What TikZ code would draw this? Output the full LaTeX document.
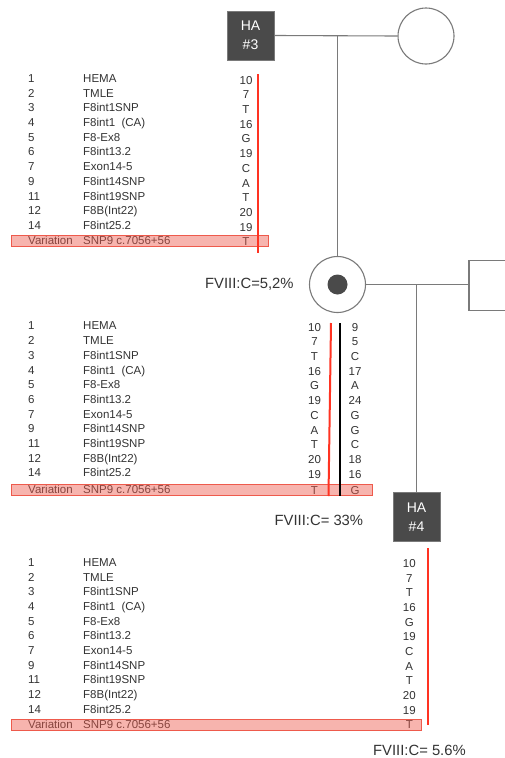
\documentclass[tikz,border=0pt]{standalone}
\usepackage{fontspec}
\setmainfont{Liberation Sans}
\definecolor{pedgray}{HTML}{7A7A7A}
\definecolor{hadark}{HTML}{4A4A4A}
\definecolor{txtgray}{HTML}{333333}
\definecolor{redline}{HTML}{FF3322}
\definecolor{hlred}{HTML}{EE5A4C}
\begin{document}
\begin{tikzpicture}[x=1pt,y=-1pt,
  ped/.style={draw=pedgray,line width=1.1pt},
  affsq/.style={draw=pedgray,line width=0.8pt,fill=hadark,minimum width=47pt,minimum height=49pt,inner sep=0pt,text=white,align=center,font=\fontsize{14}{19}\selectfont},
  unsq/.style={draw=pedgray,line width=1.1pt,fill=white,minimum width=47pt,minimum height=50pt,inner sep=0pt},
  femcirc/.style={circle,draw=pedgray,line width=1.1pt,fill=white,minimum size=56pt,inner sep=0pt},
  carrierdot/.style={circle,fill=hadark,minimum size=20pt,inner sep=0pt},
  fvlabel/.style={anchor=base west,inner sep=0pt,text=txtgray,font=\fontsize{14.8}{16}\selectfont},
  tabtxt/.style={anchor=base west,inner sep=0pt,text=txtgray,font=\fontsize{11.5}{13}\selectfont},
  tabval/.style={anchor=base,inner sep=0pt,text=txtgray,font=\fontsize{11.5}{13}\selectfont},
  redbar/.style={draw=redline,line width=2pt},
  blackbar/.style={draw=black,line width=2pt},
  hlbox/.style={draw=hlred,line width=1pt,fill=hlred,fill opacity=0.45}
]
\useasboundingbox (0,0) rectangle (505,758);
\clip (0,0) rectangle (505,758);
\fill[white] (0,0) rectangle (505,758);

% ---------- pedigree ----------
\node[affsq] (ha3) at (250.5,35.5) {HA\\\#3};
\node[femcirc] (m1) at (426,36) {};
\draw[ped] (ha3.east) -- (m1.west);
\node[femcirc] (p) at (337.5,284.5) {};
\node[carrierdot] (pd) at (p.center) {};
\coordinate (mid1) at (p.north |- ha3.east);
\draw[ped] (mid1) -- (p.north);
\node[unsq] (sq) at (492.5,285.5) {};
\draw[ped] (p.east) -- (p.east -| sq.west);
\node[affsq] (ha4) at (416.5,517.3) {HA\\\#4};
\coordinate (mid2) at (ha4.north |- p.east);
\draw[ped] (mid2) -- (ha4.north);

\node[fvlabel] (fv1) at (205,288.5) {FVIII:C=5,2\%};
\node[fvlabel] (fv2) at (274.5,525.5) {FVIII:C= 33\%};
\node[fvlabel] (fv3) at (373,755.5) {FVIII:C= 5.6\%};

% ---------- table 1 ----------
\foreach \n/\nm/\v [count=\i from 0] in {1/HEMA/10,2/TMLE/7,3/F8int1SNP/T,4/F8int1\ \ (CA)/16,5/F8-Ex8/G,6/F8int13.2/19,7/Exon14-5/C,9/F8int14SNP/A,11/F8int19SNP/T,12/F8B(Int22)/20,14/F8int25.2/19}{
  \node[tabtxt] (ta\i) at (28,78.3+14.7*\i+4.1) {\n};
  \node[tabtxt] (tb\i) at (83,78.3+14.7*\i+4.1) {\nm};
  \node[tabval] (tc\i) at (246,80+14.7*\i+4.1) {\v};
}
\node[tabtxt] (tav) at (28,240.7+4.1) {Variation};
\node[tabtxt] (tbv) at (83,240.7+4.1) {SNP9 c.7056+56};
\node[tabval] (tcv) at (246,241.5+4.1) {T};
\draw[hlbox] (11.7,235) rectangle (268.3,246.7);
\draw[redbar] (258,74) -- (258,253);

% ---------- table 2 ----------
\foreach \n/\nm/\v/\w [count=\i from 0] in {1/HEMA/10/9,2/TMLE/7/5,3/F8int1SNP/T/C,4/F8int1\ \ (CA)/16/17,5/F8-Ex8/G/A,6/F8int13.2/19/24,7/Exon14-5/C/G,9/F8int14SNP/A/G,11/F8int19SNP/T/C,12/F8B(Int22)/20/18,14/F8int25.2/19/16}{
  \node[tabtxt] (ua\i) at (28,325.8+14.7*\i+4.1) {\n};
  \node[tabtxt] (ub\i) at (83,325.8+14.7*\i+4.1) {\nm};
  \node[tabval] (uc\i) at (314.5,327+14.7*\i+4.1) {\v};
  \node[tabval] (ud\i) at (355,327+14.7*\i+4.1) {\w};
}
\node[tabtxt] (uav) at (28,489+4.1) {Variation};
\node[tabtxt] (ubv) at (83,489+4.1) {SNP9 c.7056+56};
\node[tabval] (ucv) at (314.5,490+4.1) {T};
\node[tabval] (udv) at (355,490+4.1) {G};
\draw[hlbox] (11.7,484) rectangle (372.7,495);
\draw[redbar] (331,323) -- (328.5,496);
\draw[blackbar] (340,323) -- (340,496);

% ---------- table 3 ----------
\foreach \n/\nm/\v [count=\i from 0] in {1/HEMA/10,2/TMLE/7,3/F8int1SNP/T,4/F8int1\ \ (CA)/16,5/F8-Ex8/G,6/F8int13.2/19,7/Exon14-5/C,9/F8int14SNP/A,11/F8int19SNP/T,12/F8B(Int22)/20,14/F8int25.2/19}{
  \node[tabtxt] (va\i) at (28,562.4+14.67*\i+4.1) {\n};
  \node[tabtxt] (vb\i) at (83,562.4+14.67*\i+4.1) {\nm};
  \node[tabval] (vc\i) at (409.3,563.4+14.67*\i+4.1) {\v};
}
\node[tabtxt] (vav) at (28,724+4.1) {Variation};
\node[tabtxt] (vbv) at (83,724+4.1) {SNP9 c.7056+56};
\node[tabval] (vcv) at (409.3,724.5+4.1) {T};
\draw[hlbox] (11.7,719) rectangle (421.7,730);
\draw[redbar] (427.5,548) -- (427.5,725);
\end{tikzpicture}
\end{document}
